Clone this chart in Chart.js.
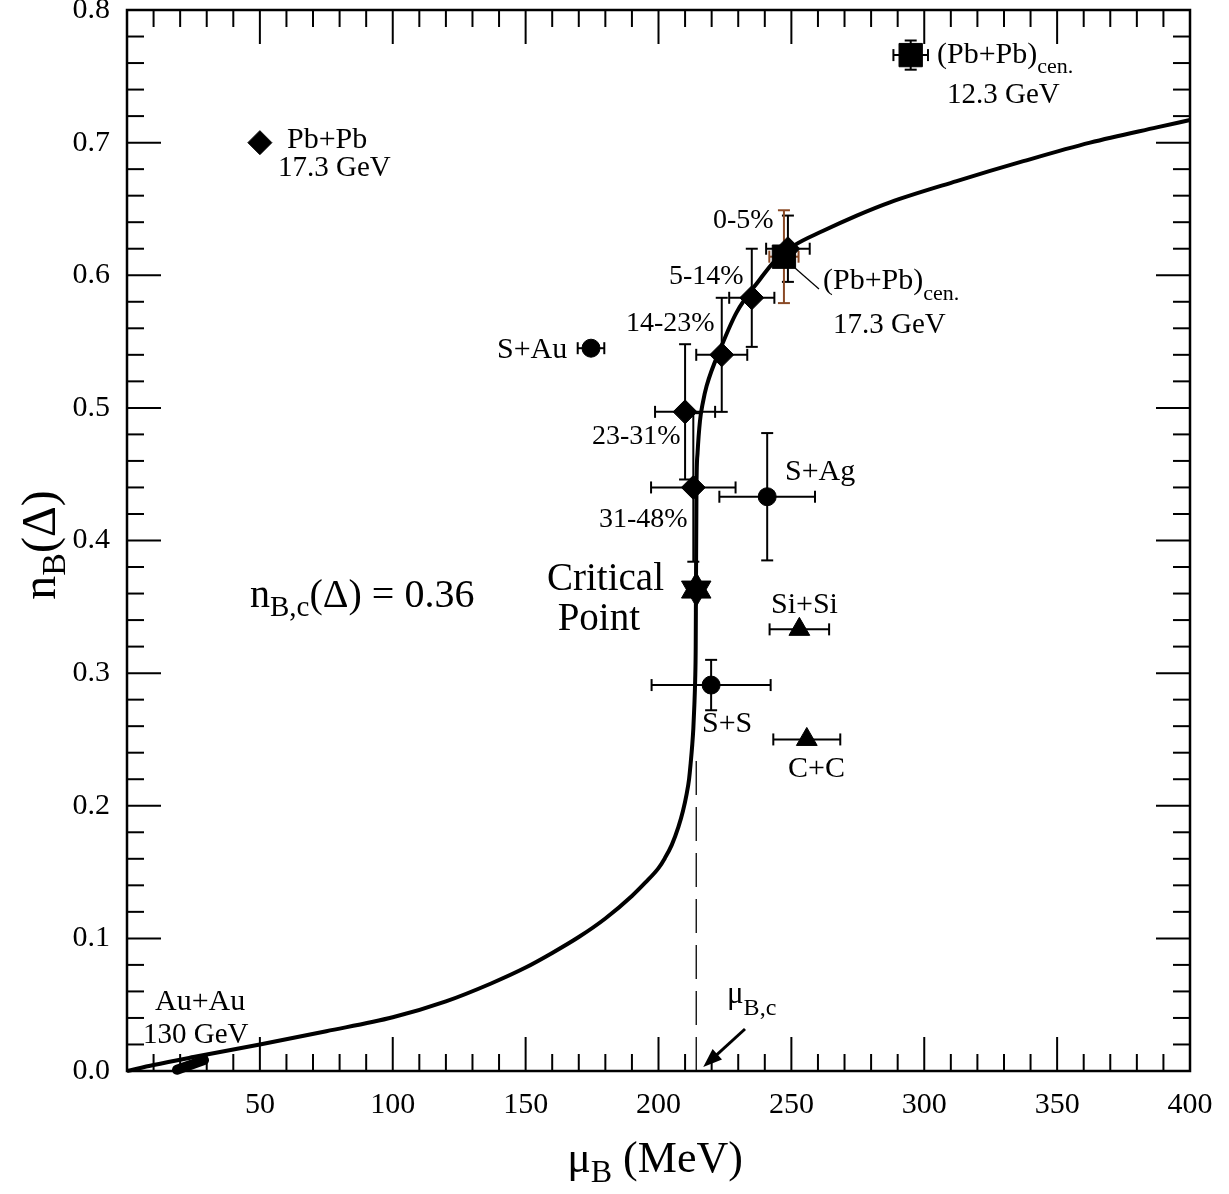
<!DOCTYPE html>
<html><head><meta charset="utf-8">
<script src="https://cdn.jsdelivr.net/npm/chart.js@4/dist/chart.umd.min.js"></script>
<style>html,body{margin:0;padding:0;background:#fff}#wrap{width:1229px;height:1194px}</style>
</head><body><div id="wrap"><canvas id="c" width="1229" height="1194"></canvas></div>
<script>
const FONT = '"Liberation Serif", "Times New Roman", serif';

// theoretical curve n_B(mu_B)
const curveMu = [0, 10, 25, 50, 75, 100, 120, 137, 150, 160, 170, 180, 190, 195, 200, 202.4, 205, 207.5, 209.2, 210.6, 211.5, 212.1, 212.7, 213.1, 213.5, 213.8, 214.0, 214.1, 214.3, 214.7, 215.6, 216.7, 218.1, 223.8, 229.4, 238.2, 243.2, 250.7, 262, 274.6, 287.1, 312.2, 337.3, 362.4, 387.5, 400];
const curveN  = [0, 0.0045, 0.0105, 0.020, 0.030, 0.0405, 0.0525, 0.066, 0.078, 0.089, 0.101, 0.115, 0.132, 0.142, 0.153, 0.1605, 0.1705, 0.184, 0.196, 0.209, 0.220, 0.232, 0.246, 0.258, 0.276, 0.295, 0.320, 0.363, 0.441, 0.466, 0.490, 0.504, 0.5165, 0.547, 0.572, 0.597, 0.6096, 0.622, 0.6335, 0.645, 0.655, 0.671, 0.686, 0.700, 0.7115, 0.717];

// Pb+Pb 17.3 GeV centrality classes (diamonds)
const centLabels = ['0-5%', '5-14%', '14-23%', '23-31%', '31-48%'];
const centMu     = [248.7, 235.1, 223.8, 210.0, 213.1];
const centMuErr  = [8.2, 8.5, 9.6, 11.3, 15.9];
const centN      = [0.620, 0.583, 0.540, 0.497, 0.440];
const centNErr   = [0.025, 0.037, 0.043, 0.051, 0.056];

// Pb+Pb 17.3 GeV (isolated diamond)
const pbMu = [50];
const pbN  = [0.70];

// (Pb+Pb)cen. squares: 12.3 GeV, 17.3 GeV
const cenLabels = ['12.3 GeV', '17.3 GeV'];
const cenMu     = [294.9, 247.2];
const cenMuErr  = [6.5, 5.5];
const cenN      = [0.766, 0.614];
const cenNErr   = [0.011, 0.035];

// circles
const circLabels = ['S+Au', 'S+Ag', 'S+S'];
const circMu     = [174.6, 240.9, 219.8];
const circMuErr  = [5.0, 18.0, 22.4];
const circN      = [0.545, 0.433, 0.291];
const circNErr   = [0, 0.048, 0.019];

// triangles
const triLabels = ['Si+Si', 'C+C'];
const triMu     = [253.0, 255.8];
const triMuErr  = [11.2, 12.6];
const triN      = [0.333, 0.250];

// critical point
const critMu = [214.2];
const critN  = [0.363];

// Au+Au 130 GeV band
const auMu = [18.8, 29.0];
const auN  = [0.0009, 0.0082];

// mu_B,c dashed marker
const dashMu = [214.2, 214.2];
const dashN  = [0, 0.235];

const xTicks = [50, 100, 150, 200, 250, 300, 350, 400];
const yTicks = [0, 0.1, 0.2, 0.3, 0.4, 0.5, 0.6, 0.7, 0.8];

const pts = (xs, ys) => xs.map((x, i) => ({x: x, y: ys[i]}));

function line(ctx, x1, y1, x2, y2) { ctx.beginPath(); ctx.moveTo(x1, y1); ctx.lineTo(x2, y2); ctx.stroke(); }

function errBar(ctx, sx, sy, mu, n, dmu, dn, color) {
  const cap = 6;
  ctx.strokeStyle = color; ctx.lineWidth = 2;
  const px = sx.getPixelForValue(mu), py = sy.getPixelForValue(n);
  if (dmu > 0) {
    const l = sx.getPixelForValue(mu - dmu), r = sx.getPixelForValue(mu + dmu);
    line(ctx, l, py, r, py); line(ctx, l, py - cap, l, py + cap); line(ctx, r, py - cap, r, py + cap);
  }
  if (dn > 0) {
    const t = sy.getPixelForValue(n + dn), b = sy.getPixelForValue(n - dn);
    line(ctx, px, t, px, b); line(ctx, px - cap, t, px + cap, t); line(ctx, px - cap, b, px + cap, b);
  }
}

// text with subscript pieces: parts = [[text, isSub]]
function richText(ctx, parts, x, y, size, subSize, subDrop, align) {
  let w = 0;
  parts.forEach(p => { ctx.font = (p[1] ? subSize : size) + 'px ' + FONT; p.w = ctx.measureText(p[0]).width; w += p.w; });
  let cx = align === 'center' ? x - w / 2 : (align === 'right' ? x - w : x);
  ctx.textAlign = 'left'; ctx.textBaseline = 'alphabetic';
  parts.forEach(p => { ctx.font = (p[1] ? subSize : size) + 'px ' + FONT; ctx.fillText(p[0], cx, y + (p[1] ? subDrop : 0)); cx += p.w; });
}

const deco = {
  id: 'deco',
  beforeDatasetsDraw(chart) {
    const ctx = chart.ctx, sx = chart.scales.x, sy = chart.scales.y;
    ctx.save();
    centMu.forEach((m, i) => errBar(ctx, sx, sy, m, centN[i], centMuErr[i], centNErr[i], '#000'));
    errBar(ctx, sx, sy, cenMu[0], cenN[0], cenMuErr[0], cenNErr[0], '#000');
    errBar(ctx, sx, sy, cenMu[1], cenN[1], cenMuErr[1], cenNErr[1], '#8a4a26');
    circMu.forEach((m, i) => errBar(ctx, sx, sy, m, circN[i], circMuErr[i], circNErr[i], '#000'));
    triMu.forEach((m, i) => errBar(ctx, sx, sy, m, triN[i], triMuErr[i], 0, '#000'));
    ctx.restore();
  },
  afterDatasetsDraw(chart) {
    const ctx = chart.ctx, a = chart.chartArea, sx = chart.scales.x, sy = chart.scales.y;
    ctx.save();
    ctx.strokeStyle = '#000'; ctx.fillStyle = '#000';
    // frame
    ctx.lineWidth = 2.5;
    ctx.strokeRect(a.left, a.top, a.right - a.left, a.bottom - a.top);
    // inward ticks
    ctx.lineWidth = 2;
    for (let v = 10; v < 400; v += 10) {
      const px = sx.getPixelForValue(v), L = v % 50 === 0 ? 34 : 17;
      line(ctx, px, a.bottom, px, a.bottom - L); line(ctx, px, a.top, px, a.top + L);
    }
    for (let k = 1; k < 40; k++) {
      const py = sy.getPixelForValue(k * 0.02), L = k % 5 === 0 ? 34 : 17;
      line(ctx, a.left, py, a.left + L, py); line(ctx, a.right, py, a.right - L, py);
    }
    // annotations
    ctx.fillStyle = '#000';
    const t = (s, x, y, size, align) => richText(ctx, [[s, false]], x, y, size, size, 0, align || 'left');
    t('Pb+Pb', 287, 148, 30);
    t('17.3 GeV', 278, 176, 29);
    richText(ctx, [['(Pb+Pb)', false], ['cen.', true]], 937, 63, 30, 22, 10, 'left');
    t('12.3 GeV', 947, 103, 29);
    richText(ctx, [['(Pb+Pb)', false], ['cen.', true]], 823, 289, 30, 22, 11, 'left');
    t('17.3 GeV', 833, 333, 29);
    t('0-5%', 713, 228, 28);
    t('5-14%', 669, 284, 28);
    t('14-23%', 626, 331, 28);
    t('23-31%', 592, 444, 28);
    t('31-48%', 599, 527, 28);
    t('S+Au', 497, 358, 30);
    t('S+Ag', 785, 480, 30);
    t('Si+Si', 771, 613, 30);
    t('S+S', 702, 732, 30);
    t('C+C', 788, 777, 30);
    t('Au+Au', 155, 1010, 30);
    t('130 GeV', 143, 1043, 29);
    t('Critical', 664, 590, 39, 'right');
    t('Point', 640, 630, 39, 'right');
    richText(ctx, [['n', false], ['B,c', true], ['(\u0394) = 0.36', false]], 250, 607, 40, 29, 9, 'left');
    richText(ctx, [['\u03bc', false], ['B,c', true]], 727, 1003, 31, 24, 12, 'left');
    // leader line
    ctx.lineWidth = 1.2;
    line(ctx, 795, 268, 819, 289);
    // arrow to mu_B,c
    ctx.lineWidth = 3;
    const tipX = sx.getPixelForValue(dashMu[0]) + 7, tipY = a.bottom - 4;
    const fx = 745, fy = 1029;
    const ang = Math.atan2(tipY - fy, tipX - fx);
    line(ctx, fx, fy, tipX - Math.cos(ang) * 10, tipY - Math.sin(ang) * 10);
    ctx.beginPath();
    ctx.moveTo(tipX, tipY);
    ctx.lineTo(tipX - Math.cos(ang) * 19 + Math.sin(ang) * 7, tipY - Math.sin(ang) * 19 - Math.cos(ang) * 7);
    ctx.lineTo(tipX - Math.cos(ang) * 19 - Math.sin(ang) * 7, tipY - Math.sin(ang) * 19 + Math.cos(ang) * 7);
    ctx.closePath(); ctx.fill();
    // axis titles
    richText(ctx, [['\u03bc', false], ['B', true], [' (MeV)', false]], 655, 1172, 44, 32, 10, 'center');
    ctx.translate(55, 545); ctx.rotate(-Math.PI / 2);
    richText(ctx, [['n', false], ['B', true], ['(\u0394)', false]], 0, 0, 48, 34, 10, 'center');
    ctx.restore();
  }
};

const black = '#000';
new Chart(document.getElementById('c').getContext('2d'), {
  type: 'scatter',
  data: {
    datasets: [
      {label: 'curve', data: pts(curveMu, curveN), showLine: true, borderColor: black, borderWidth: 4, pointRadius: 0, cubicInterpolationMode: 'monotone', clip: false, order: 5},
      {label: 'muc', data: pts(dashMu, dashN), showLine: true, borderColor: black, borderWidth: 1.3, borderDash: [34, 12], pointRadius: 0, clip: false, order: 6},
      {label: 'Au+Au 130 GeV', data: pts(auMu, auN), showLine: true, borderColor: black, borderWidth: 10, borderCapStyle: 'round', pointRadius: 0, clip: false, order: 4},
      {label: 'centrality', data: pts(centMu, centN), pointStyle: 'rectRot', pointRadius: 12, backgroundColor: black, borderColor: black, borderWidth: 1, clip: false, order: 1},
      {label: 'Pb+Pb', data: pts(pbMu, pbN), pointStyle: 'rectRot', pointRadius: 12, backgroundColor: black, borderColor: black, borderWidth: 1, clip: false, order: 1},
      {label: '(Pb+Pb)cen.', data: pts(cenMu, cenN), pointStyle: 'rect', pointRadius: 16.5, backgroundColor: black, borderColor: black, borderWidth: 1, clip: false, order: 0},
      {label: 'circles', data: pts(circMu, circN), pointStyle: 'circle', pointRadius: 9, backgroundColor: black, borderColor: black, borderWidth: 1, clip: false, order: 1},
      {label: 'triangles', data: pts(triMu, triN), pointStyle: 'triangle', pointRadius: 12, backgroundColor: black, borderColor: black, borderWidth: 1, clip: false, order: 1},
      {label: 'critical up', data: pts(critMu, critN), pointStyle: 'triangle', pointRadius: 17, rotation: 0, backgroundColor: black, borderColor: black, borderWidth: 1, clip: false, order: 0},
      {label: 'critical down', data: pts(critMu, critN), pointStyle: 'triangle', pointRadius: 17, rotation: 180, backgroundColor: black, borderColor: black, borderWidth: 1, clip: false, order: 0}
    ]
  },
  options: {
    responsive: false, animation: false, devicePixelRatio: 1, events: [],
    layout: {autoPadding: false, padding: {left: 0, right: 39, top: 0, bottom: 0}},
    plugins: {legend: {display: false}, tooltip: {enabled: false}},
    scales: {
      x: {
        type: 'linear', min: 0, max: 400,
        grid: {display: false, drawTicks: false}, border: {display: false},
        afterBuildTicks: s => { s.ticks = xTicks.map(v => ({value: v})); },
        ticks: {font: {family: FONT, size: 30}, color: '#000', padding: 16, maxRotation: 0, autoSkip: false,
                callback: v => String(v)},
        afterFit: s => { s.height = 123; }
      },
      y: {
        type: 'linear', min: 0, max: 0.8,
        grid: {display: false, drawTicks: false}, border: {display: false},
        afterBuildTicks: s => { s.ticks = yTicks.map(v => ({value: v})); },
        ticks: {font: {family: FONT, size: 30, lineHeight: 0.66}, color: '#000', padding: 17, autoSkip: false,
                callback: v => Number(v).toFixed(1)},
        afterFit: s => { s.width = 127; s.paddingTop = 10; s.paddingBottom = 10; }
      }
    }
  },
  plugins: [deco]
});
</script>
</body></html>
